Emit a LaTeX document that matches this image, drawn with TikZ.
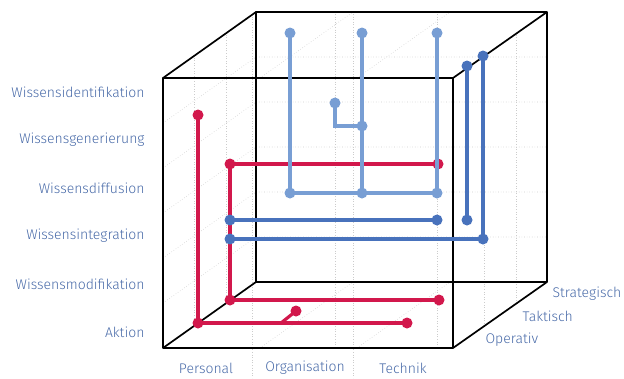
\documentclass[tikz,border=0pt]{standalone}
\usepackage{fontspec}
\setmainfont{Fira Sans Light}
\definecolor{rot}{RGB}{210,24,76}
\definecolor{hellblau}{RGB}{120,158,212}
\definecolor{dunkelblau}{RGB}{72,114,188}
\definecolor{textblau}{RGB}{72,106,168}
\begin{document}
\begin{tikzpicture}[x=1pt,y=-1pt,
    kante/.style={black,line width=1.7pt,line join=round},
    raster/.style={gray!40,dotted,line width=0.6pt},
    linie/.style={#1,line width=3.2pt},
    punkt/.style={circle,fill=#1,inner sep=0pt,minimum size=11pt},
    beschrift/.style={text=textblau,font=\fontsize{14}{16}\selectfont}]
        \useasboundingbox (0,0) rectangle (624,378);

        % Raster
        \foreach \x in {194,226} \draw[raster] (\x,{348-(\x-163)*66/93}) -- (\x,{78-(\x-163)*66/93});
        \foreach \x in {484,516} \draw[raster] (\x,{348-(\x-453)*66/93}) -- (\x,{78-(\x-453)*66/93});
        \foreach \y in {123,168,213,258,303} {
            \draw[raster] (163,\y) -- (256,\y-66) -- (547,\y-66);
        }
        \foreach \x in {252,353} \draw[raster] (\x,14) -- (\x,378);
        \foreach \x in {335,437} \draw[raster] (\x,14) -- (\x,348);
        \foreach \x in {260,357} {
            \draw[raster] (\x,348) -- (\x+93,282);
            \draw[raster] (\x,78) -- (\x+93,12);
        }

        % Wuerfel
        \coordinate (v1) at (163,78);
        \coordinate (v2) at (453,78);
        \coordinate (v3) at (453,348);
        \coordinate (v4) at (163,348);
        \coordinate (h1) at (256,12);
        \coordinate (h2) at (547,12);
        \coordinate (h3) at (547,282);
        \coordinate (h4) at (256,282);
        \draw[kante] (h1) -- (h2) -- (h3) -- (h4) -- cycle;
        \draw[kante] (v1) -- (h1) (v2) -- (h2) (v3) -- (h3) (v4) -- (h4);
        \draw[kante] (v1) -- (v2) -- (v3) -- (v4) -- cycle;

        % rote Linien
        \node[punkt=rot] (r1) at (198,115) {};
        \node[punkt=rot] (r2) at (198,323) {};
        \node[punkt=rot] (r3) at (407,323) {};
        \node[punkt=rot] (r4) at (296,311) {};
        \coordinate (r5) at (281,323);
        \node[punkt=rot] (r6) at (230,164) {};
        \node[punkt=rot] (r7) at (230,300) {};
        \node[punkt=rot] (r8) at (438,164) {};
        \node[punkt=rot] (r9) at (439,300) {};
        \draw[linie=rot] (r1.center) -- (r2.center) -- (r3.center);
        \draw[linie=rot] (r5) -- (r4.center);
        \draw[linie=rot] (r8.center) -- (r6.center) -- (r7.center) -- (r9.center);

        % hellblaue Linien
        \node[punkt=hellblau] (b1) at (290,33) {};
        \node[punkt=hellblau] (b2) at (362,33) {};
        \node[punkt=hellblau] (b3) at (437,33) {};
        \node[punkt=hellblau] (b4) at (290,193) {};
        \node[punkt=hellblau] (b5) at (362,193) {};
        \node[punkt=hellblau] (b6) at (437,193) {};
        \node[punkt=hellblau] (b7) at (335,103) {};
        \node[punkt=hellblau] (b8) at (362,126) {};
        \coordinate (b9) at (335,126);
        \draw[linie=hellblau] (b1.center) -- (b4.center) -- (b6.center) -- (b3.center);
        \draw[linie=hellblau] (b2.center) -- (b5.center);
        \draw[linie=hellblau] (b7.center) -- (b9) -- (b8.center);

        % dunkelblaue Linien
        \node[punkt=dunkelblau] (d1) at (230,220) {};
        \node[punkt=dunkelblau] (d2) at (437,220) {};
        \node[punkt=dunkelblau] (d3) at (230,239) {};
        \node[punkt=dunkelblau] (d4) at (483,239) {};
        \node[punkt=dunkelblau] (d5) at (467,66) {};
        \node[punkt=dunkelblau] (d6) at (467,220) {};
        \node[punkt=dunkelblau] (d7) at (483,56) {};
        \draw[linie=dunkelblau] (d1.center) -- (d2.center);
        \draw[linie=dunkelblau] (d3.center) -- (d4.center) -- (d7.center);
        \draw[linie=dunkelblau] (d5.center) -- (d6.center);

        % Beschriftung
        \node[beschrift,anchor=east] (w1) at (148,92) {Wissensidentifikation};
        \node[beschrift,anchor=east] (w2) at (148,140) {Wissensgenerierung};
        \node[beschrift,anchor=east] (w3) at (148,188) {Wissensdiffusion};
        \node[beschrift,anchor=east] (w4) at (148,236) {Wissensintegration};
        \node[beschrift,anchor=east] (w5) at (148,284) {Wissensmodifikation};
        \node[beschrift,anchor=east] (w6) at (148,332) {Aktion};
        \node[beschrift] (s1) at (206,368) {Personal};
        \node[beschrift] (s2) at (305,368) {Organisation};
        \node[beschrift] (s3) at (403,368) {Technik};
        \node[beschrift,anchor=west] (e1) at (482,340) {Operativ};
        \node[beschrift,anchor=west] (e2) at (519,316) {Taktisch};
        \node[beschrift,anchor=west] (e3) at (549,294) {Strategisch};
    \end{tikzpicture}
\end{document}
